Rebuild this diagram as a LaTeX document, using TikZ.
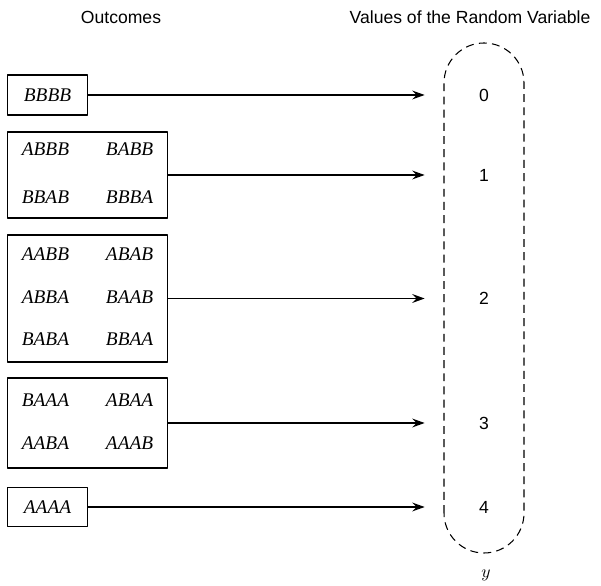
\documentclass[tikz,border=0pt]{standalone}
\usepackage{fontspec}
\setmainfont{Liberation Serif}
\setsansfont{Liberation Sans}
\usetikzlibrary{arrows.meta}

\begin{document}
\begin{tikzpicture}[line join=round, >={Stealth[length=7pt,width=5pt,inset=2.5pt]},
	outbox/.style={draw, line width=0.6pt, anchor=west, inner sep=0pt, minimum width=3.2cm, font=\itshape\fontsize{11}{13}\selectfont},
	val/.style={minimum width=2.36cm, font=\sffamily\fontsize{10}{12}\selectfont},
	ttl/.style={font=\sffamily\fontsize{10}{12}\selectfont}]
	\useasboundingbox (0,0) rectangle (12.02,11.70);
	\node[ttl] (ttlout) at (2.42,11.36) {Outcomes};
	\node[ttl] (ttlval) at (9.40,11.36) {Values of the Random Variable};
	% outcome boxes
	\node[outbox, minimum width=1.6cm, minimum height=0.8cm] (o0) at (0.14,9.80) {BBBB};
	\node[outbox, minimum height=1.72cm] (o1) at (0.14,8.20) {\begin{tabular}{@{}l@{\hspace{21pt}}l@{}}
			ABBB & BABB\\[14pt]
			BBAB & BBBA\end{tabular}};
	\node[outbox, minimum height=2.54cm] (o2) at (0.14,5.73) {\begin{tabular}{@{}l@{\hspace{21pt}}l@{}}
			AABB & ABAB\\[11.4pt]
			ABBA & BAAB\\[11.4pt]
			BABA & BBAA\end{tabular}};
	\node[outbox, minimum height=1.8cm] (o3) at (0.14,3.24) {\begin{tabular}{@{}l@{\hspace{21pt}}l@{}}
			BAAA & ABAA\\[11.4pt]
			AABA & AAAB\end{tabular}};
	\node[outbox, minimum width=1.6cm, minimum height=0.78cm] (o4) at (0.14,1.56) {AAAA};
	% values of y
	\foreach\v/\y in {0/9.80,1/8.20,2/5.73,3/3.24,4/1.56}
	{\node[val] (v\v) at (9.68,\y) {\v};
		\draw[->, line width=0.8pt] (o\v.east)--(o\v.east -| v\v.west);
	}
	\draw[dashed, dash pattern=on 4.5pt off 3pt, line width=0.6pt] (8.88,1.44)--(8.88,10.04) arc (180:0:0.8)--(10.48,1.44) arc (0:-180:0.8)--cycle;
	\node (rv) at (9.72,0.20) {$y$};
\end{tikzpicture}
\end{document}
